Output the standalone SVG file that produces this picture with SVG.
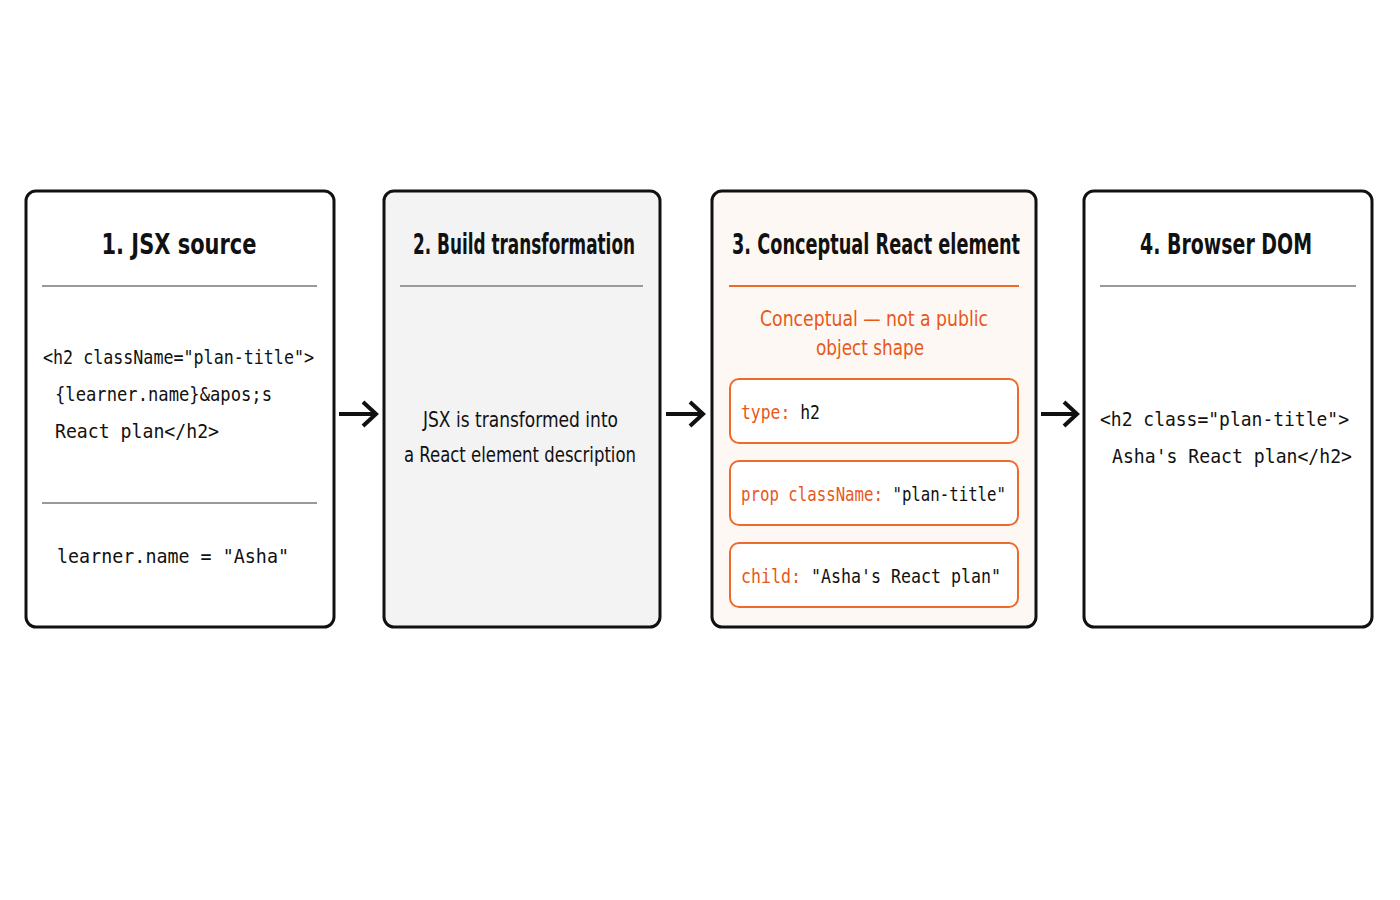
<svg xmlns="http://www.w3.org/2000/svg" width="1400" height="900" viewBox="0 0 1400 900">
<style>
.box{fill:#fff;stroke:#111;stroke-width:3}
.t{font-family:"DejaVu Sans Condensed","Liberation Sans",sans-serif;font-weight:bold;font-size:28px;fill:#111;text-anchor:middle}
.b{font-family:"DejaVu Sans Condensed","Liberation Sans",sans-serif;font-size:21px;fill:#111}
.o{font-family:"DejaVu Sans Condensed","Liberation Sans",sans-serif;font-size:22px;fill:#e8581a}
.m{font-family:"DejaVu Sans Mono","Liberation Mono",monospace;font-size:20px;fill:#111}
.mo{fill:#e8581a}
.hr{stroke:#999;stroke-width:2}
.pill{fill:#fff;stroke:#ee6a2a;stroke-width:2}
.arr{stroke:#111;stroke-width:4;fill:none}
</style>
<rect width="1400" height="900" fill="#fff"/>
<g id="n1">
<rect class="box" x="26" y="191" width="308" height="436" rx="10"/>
<text class="t" x="179" y="254" textLength="155" lengthAdjust="spacingAndGlyphs">1. JSX source</text>
<line class="hr" x1="42" y1="286" x2="317" y2="286"/>
<text class="m" x="43" y="364" textLength="271" lengthAdjust="spacingAndGlyphs">&lt;h2 className="plan-title"&gt;</text>
<text class="m" x="55" y="401" textLength="217" lengthAdjust="spacingAndGlyphs">{learner.name}&amp;apos;s</text>
<text class="m" x="55" y="438" textLength="164" lengthAdjust="spacingAndGlyphs">React plan&lt;/h2&gt;</text>
<line class="hr" x1="42" y1="503" x2="317" y2="503"/>
<text class="m" x="57" y="563" textLength="232" lengthAdjust="spacingAndGlyphs">learner.name = "Asha"</text>
</g>
<g id="n2">
<rect class="box" x="384" y="191" width="276" height="436" rx="10" style="fill:#f3f3f4"/>
<text class="t" x="524" y="254" textLength="222" lengthAdjust="spacingAndGlyphs">2. Build transformation</text>
<line class="hr" x1="400" y1="286" x2="643" y2="286"/>
<text class="b" x="423" y="427" textLength="195" lengthAdjust="spacingAndGlyphs">JSX is transformed into</text>
<text class="b" x="404" y="462" textLength="232" lengthAdjust="spacingAndGlyphs">a React element description</text>
</g>
<g id="n3">
<rect class="box" x="712" y="191" width="324" height="436" rx="10" style="fill:#fdf8f3"/>
<text class="t" x="876" y="254" textLength="288" lengthAdjust="spacingAndGlyphs">3. Conceptual React element</text>
<line x1="729" y1="286" x2="1019" y2="286" stroke="#ee6a2a" stroke-width="2"/>
<text class="o" x="760" y="326" textLength="228" lengthAdjust="spacingAndGlyphs">Conceptual — not a public</text>
<text class="o" x="816" y="355" textLength="108" lengthAdjust="spacingAndGlyphs">object shape</text>
<rect class="pill" x="730" y="379" width="288" height="64" rx="9"/>
<text class="m" x="741" y="419" textLength="79" lengthAdjust="spacingAndGlyphs"><tspan class="mo">type:</tspan> h2</text>
<rect class="pill" x="730" y="461" width="288" height="64" rx="9"/>
<text class="m" x="741" y="501" textLength="265" lengthAdjust="spacingAndGlyphs"><tspan class="mo">prop className:</tspan> "plan-title"</text>
<rect class="pill" x="730" y="543" width="288" height="64" rx="9"/>
<text class="m" x="741" y="583" textLength="260" lengthAdjust="spacingAndGlyphs"><tspan class="mo">child:</tspan> "Asha's React plan"</text>
</g>
<g id="n4">
<rect class="box" x="1084" y="191" width="288" height="436" rx="10"/>
<text class="t" x="1226" y="254" textLength="172" lengthAdjust="spacingAndGlyphs">4. Browser DOM</text>
<line class="hr" x1="1100" y1="286" x2="1356" y2="286"/>
<text class="m" x="1100" y="426" textLength="249" lengthAdjust="spacingAndGlyphs">&lt;h2 class="plan-title"&gt;</text>
<text class="m" x="1112" y="463" textLength="240" lengthAdjust="spacingAndGlyphs">Asha's React plan&lt;/h2&gt;</text>
</g>
<g id="connectors">
<path class="arr" d="M339 414H375M363 402L376 414L363 426"/>
<path class="arr" d="M666 414H702M690 402L703 414L690 426"/>
<path class="arr" d="M1041 414H1076M1064 402L1077 414L1064 426"/>
</g>
</svg>
